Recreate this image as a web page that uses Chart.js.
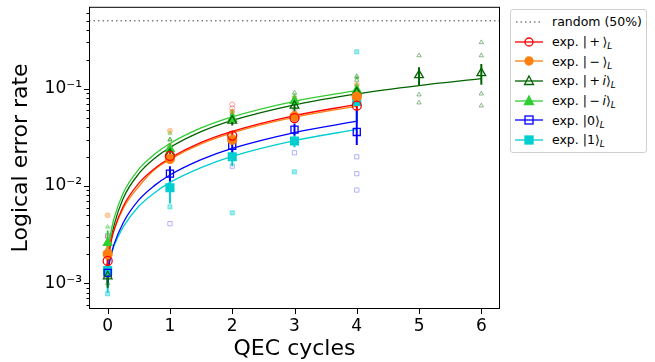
<!DOCTYPE html>
<html>
<head>
<meta charset="utf-8">
<script src="https://cdn.jsdelivr.net/npm/chart.js@4.4.1/dist/chart.umd.min.js"></script>
<style>
  body { margin: 0; background: #fff; font-family: "DejaVu Sans", sans-serif; }
  #wrap { position: relative; width: 655px; height: 362px; }
  #legend {
    position: absolute; left: 510px; top: 9px; width: 137px; height: 144px;
    border: 1px solid #d0d0d0; border-radius: 3px; background: #fff;
    box-sizing: border-box; padding-top: 2px; font-size: 12.5px; color: #000;
  }
  .row { height: 19.7px; display: flex; align-items: center; white-space: nowrap; }
  .row svg { margin-left: 4px; margin-right: 9px; flex-shrink: 0; }
  sub { font-size: 9px; vertical-align: -3px; line-height: 0; }
</style>
</head>
<body>
<div id="wrap">
  <canvas id="chart" width="655" height="362"></canvas>
  <div id="legend"></div>
</div>
<script>
// x positions
const cycles = [0, 1, 2, 3, 4];
const cyclesLong = [0, 1, 2, 3, 4, 5, 6];
const randomRate = 0.5;

// mean logical error per cycle
const meanPlus = [0.0017, 0.0204, 0.033, 0.050, 0.067];
const meanMinus = [0.0020, 0.019, 0.030, 0.052, 0.083];
const meanPlusI = [0.00118, 0.0215, 0.047, 0.067, 0.092, 0.138, 0.145];
const meanMinusI = [0.0026, 0.024, 0.049, 0.075, 0.097];
const meanZero = [0.00128, 0.0134, 0.026, 0.038, 0.036];
const meanOne = [0.00135, 0.0096, 0.020, 0.029, 0.074];

// error bar ends
const loPlus = [0.0014, 0.018, 0.030, 0.046, 0.060];
const hiPlus = [0.0021, 0.023, 0.036, 0.055, 0.075];
const loMinus = [0.0017, 0.017, 0.027, 0.047, 0.070];
const hiMinus = [0.0024, 0.021, 0.033, 0.058, 0.097];
const loPlusI = [0.0009, 0.019, 0.042, 0.057, 0.075, 0.109, 0.11];
const hiPlusI = [0.0016, 0.024, 0.053, 0.081, 0.105, 0.167, 0.18];
const loMinusI = [0.0019, 0.021, 0.044, 0.068, 0.088];
const hiMinusI = [0.0035, 0.027, 0.055, 0.083, 0.108];
const loZero = [0.0010, 0.0112, 0.022, 0.033, 0.0264];
const hiZero = [0.0016, 0.016, 0.030, 0.044, 0.061];
const loOne = [0.0008, 0.0066, 0.016, 0.025, 0.045];
const hiOne = [0.0017, 0.0141, 0.024, 0.034, 0.10];

// fitted curves
const fitX = [0, 0.05, 0.1, 0.25, 0.5, 0.75, 1, 1.5, 2, 3, 4];
const fitXLong = [0, 0.05, 0.1, 0.25, 0.5, 0.75, 1, 1.5, 2, 3, 4, 5, 6];
const fitPlus = [0.0017, 0.0026, 0.0035, 0.0062, 0.0107, 0.0151, 0.0194, 0.0281, 0.0365, 0.053, 0.069];
const fitMinus = [0.0019, 0.0027, 0.0035, 0.0059, 0.0099, 0.0147, 0.0188, 0.0271, 0.0352, 0.051, 0.0662];
const fitPlusI = [0.0015, 0.0027, 0.0039, 0.0075, 0.0134, 0.0192, 0.0249, 0.0362, 0.0473, 0.0685, 0.0888, 0.108, 0.127];
const fitMinusI = [0.0020, 0.0033, 0.0046, 0.0085, 0.0149, 0.0212, 0.0274, 0.0396, 0.0515, 0.0744, 0.0961];
const fitZero = [0.0013, 0.0019, 0.0025, 0.0042, 0.0072, 0.0101, 0.0130, 0.0187, 0.0244, 0.0355, 0.0464];
const fitOne = [0.0014, 0.0019, 0.0024, 0.0038, 0.0062, 0.0085, 0.0109, 0.0155, 0.0202, 0.0293, 0.0382];

// individual runs (faint markers), [cycle, error]
const runsPlus = [[0, 0.0030], [1, 0.026], [2, 0.069], [2, 0.063], [3, 0.060], [4, 0.075]];
const runsMinus = [[0, 0.0050], [1, 0.037], [1, 0.024], [2, 0.058], [3, 0.080], [4, 0.11]];
const runsPlusI = [[0, 0.0010], [0, 0.0023], [1, 0.030], [2, 0.055], [3, 0.091], [4, 0.135], [4, 0.123],
  [5, 0.22], [5, 0.087], [5, 0.072], [6, 0.30], [6, 0.22], [6, 0.089], [6, 0.067]];
const runsMinusI = [[0, 0.0038], [1, 0.030], [1, 0.035], [2, 0.059], [2, 0.055], [3, 0.085], [4, 0.13], [4, 0.11]];
const runsZero = [[0, 0.0031], [0, 0.0012], [1, 0.0041], [2, 0.016], [3, 0.022], [4, 0.020], [4, 0.0134], [4, 0.0091]];
const runsOne = [[0, 0.00078], [1, 0.0061], [2, 0.0053], [3, 0.014], [4, 0.24]];

const yMajor = [1e-3, 1e-2, 1e-1];
const yLabels = ['10\u207B\u00B3', '10\u207B\u00B2', '10\u207B\u00B9'];

const series = [
  { name: 'exp. |\u2009+\u2009\u27E9', color: '#ff0000', style: 'circle', open: true, r: 4.5,
    xs: cycles, mean: meanPlus, lo: loPlus, hi: hiPlus, fx: fitX, fit: fitPlus, runs: runsPlus, faint: 'rgba(255,0,0,0.35)' },
  { name: 'exp. |\u2009\u2212\u2009\u27E9', color: '#ff7f0e', style: 'circle', open: false, r: 4.5,
    xs: cycles, mean: meanMinus, lo: loMinus, hi: hiMinus, fx: fitX, fit: fitMinus, runs: runsMinus, faint: 'rgba(255,127,14,0.35)' },
  { name: 'exp. |\u2009+\u2009<i>i</i>\u27E9', color: '#006400', style: 'triangle', open: true, r: 5,
    xs: cyclesLong, mean: meanPlusI, lo: loPlusI, hi: hiPlusI, fx: fitXLong, fit: fitPlusI, runs: runsPlusI, faint: 'rgba(0,100,0,0.45)' },
  { name: 'exp. |\u2009\u2212\u2009<i>i</i>\u27E9', color: '#32cd32', style: 'triangle', open: false, r: 5,
    xs: cycles, mean: meanMinusI, lo: loMinusI, hi: hiMinusI, fx: fitX, fit: fitMinusI, runs: runsMinusI, faint: 'rgba(50,205,50,0.4)' },
  { name: 'exp. |0\u27E9', color: '#0000ff', style: 'rect', open: true, r: 5,
    xs: cycles, mean: meanZero, lo: loZero, hi: hiZero, fx: fitX, fit: fitZero, runs: runsZero, faint: 'rgba(0,0,255,0.3)' },
  { name: 'exp. |1\u27E9', color: '#00ced1', style: 'rect', open: false, r: 5.5,
    xs: cycles, mean: meanOne, lo: loOne, hi: hiOne, fx: fitX, fit: fitOne, runs: runsOne, faint: 'rgba(0,206,209,0.4)' }
];

function pairs(xs, ys) {
  return xs.map((x, i) => ({ x: x, y: ys[i] }));
}

function barPoints(xs, lo, hi) {
  const pts = [];
  xs.forEach((x, i) => {
    pts.push({ x: x, y: lo[i] }, { x: x, y: hi[i] }, { x: x, y: null });
  });
  return pts;
}

const datasets = [];

datasets.push({
  type: 'line', label: 'random (50%)',
  data: [{ x: -0.3, y: randomRate }, { x: 6.3, y: randomRate }],
  borderColor: '#808080', borderWidth: 1.5, borderDash: [1.5, 3],
  pointRadius: 0, order: 9
});

series.forEach(s => {
  datasets.push({
    type: 'scatter', label: s.name + ' runs',
    data: s.runs.map(p => ({ x: p[0], y: p[1] })),
    pointStyle: s.style, pointRadius: s.style === 'rect' ? 3 : 2.5,
    borderColor: s.faint, borderWidth: 1,
    backgroundColor: s.open ? 'rgba(0,0,0,0)' : s.faint,
    order: 8
  });
});

series.forEach(s => {
  datasets.push({
    type: 'line', label: s.name + ' fit',
    data: pairs(s.fx, s.fit),
    borderColor: s.color, borderWidth: 1.3, pointRadius: 0,
    cubicInterpolationMode: 'monotone', order: 5
  });
});

series.forEach(s => {
  datasets.push({
    type: 'line', label: s.name + ' err',
    data: barPoints(s.xs, s.lo, s.hi),
    borderColor: s.color, borderWidth: 2, pointRadius: 0, spanGaps: false, order: 2
  });
  datasets.push({
    type: 'scatter', label: s.name,
    data: pairs(s.xs, s.mean),
    pointStyle: s.style, pointRadius: s.r,
    borderColor: s.color, borderWidth: 1.3,
    backgroundColor: s.open ? 'rgba(0,0,0,0)' : s.color,
    order: 1
  });
});

const frame = {
  id: 'frame',
  afterDraw(chart) {
    const { ctx, chartArea: a, scales } = chart;
    ctx.save();
    ctx.strokeStyle = '#000';
    ctx.lineWidth = 1;
    ctx.strokeRect(a.left + 0.5, a.top + 0.5, a.right - a.left - 1, a.bottom - a.top - 1);
    ctx.beginPath();
    scales.x.ticks.forEach(t => {
      const px = Math.round(scales.x.getPixelForValue(t.value)) + 0.5;
      ctx.moveTo(px, a.bottom);
      ctx.lineTo(px, a.bottom + 5);
    });
    scales.y.ticks.forEach(t => {
      const py = Math.round(scales.y.getPixelForValue(t.value)) + 0.5;
      const len = yMajor.some(v => Math.abs(v - t.value) / v < 1e-6) ? 5 : 2.5;
      ctx.moveTo(a.left, py);
      ctx.lineTo(a.left - len, py);
    });
    ctx.stroke();
    ctx.restore();
  }
};

new Chart(document.getElementById('chart'), {
  data: { datasets: datasets },
  options: {
    responsive: false,
    animation: false,
    layout: { padding: { top: -3, right: 155, bottom: 0, left: 0 } },
    plugins: { legend: { display: false }, tooltip: { enabled: false } },
    scales: {
      x: {
        type: 'linear', min: -0.3, max: 6.3,
        afterFit: scale => { scale.height = 53; scale.paddingLeft = 0; scale.paddingRight = 0; },
        afterBuildTicks: scale => { scale.ticks = cyclesLong.map(v => ({ value: v })); },
        grid: { display: false, drawTicks: false },
        border: { display: false },
        ticks: { color: '#000', padding: 7, maxRotation: 0, font: { family: 'DejaVu Sans', size: 17 },
          callback: v => String(v) },
        title: { display: true, text: 'QEC cycles', color: '#000', padding: { top: 0, bottom: 0 },
          font: { family: 'DejaVu Sans', size: 22 } }
      },
      y: {
        type: 'logarithmic', min: 5.44e-4, max: 0.697,
        afterFit: scale => { scale.width = 89; scale.paddingTop = 0; scale.paddingBottom = 0; },
        afterBuildTicks: scale => {
          const t = [];
          for (let e = -4; e <= 0; e++) {
            for (let m = 1; m <= 9; m++) {
              const v = m * Math.pow(10, e);
              if (v >= 5.44e-4 && v <= 0.697) t.push({ value: v });
            }
          }
          scale.ticks = t;
        },
        grid: { display: false, drawTicks: false },
        border: { display: false },
        ticks: {
          color: '#000', padding: 7, autoSkip: false,
          font: { family: 'DejaVu Sans', size: 17 },
          callback: v => {
            const i = yMajor.findIndex(m => Math.abs(m - v) / m < 1e-6);
            return i >= 0 ? yLabels[i] : '';
          }
        },
        title: { display: true, text: 'Logical error rate', color: '#000', padding: { top: 8, bottom: 0 },
          font: { family: 'DejaVu Sans', size: 22 } }
      }
    }
  },
  plugins: [frame]
});

// legend
function symbol(s) {
  let m = '';
  const fill = s.open ? 'none' : s.color;
  if (s.style === 'circle') m = `<circle cx="14" cy="7" r="4" fill="${fill}" stroke="${s.color}" stroke-width="1.3"/>`;
  if (s.style === 'triangle') m = `<polygon points="14,2 18.5,10.5 9.5,10.5" fill="${fill}" stroke="${s.color}" stroke-width="1.3"/>`;
  if (s.style === 'rect') m = `<rect x="10" y="3" width="8" height="8" fill="${fill}" stroke="${s.color}" stroke-width="1.3"/>`;
  return `<svg width="28" height="14"><line x1="0" y1="7" x2="28" y2="7" stroke="${s.color}" stroke-width="1.3"/>${m}</svg>`;
}

const legend = document.getElementById('legend');
let html = `<div class="row"><svg width="28" height="14"><line x1="1" y1="7" x2="28" y2="7" stroke="#808080" stroke-width="1.5" stroke-dasharray="1.5 3"/></svg><span>random (50%)</span></div>`;
series.forEach(s => {
  html += `<div class="row">${symbol(s)}<span>${s.name}<sub><i>L</i></sub></span></div>`;
});
legend.innerHTML = html;
</script>
</body>
</html>
